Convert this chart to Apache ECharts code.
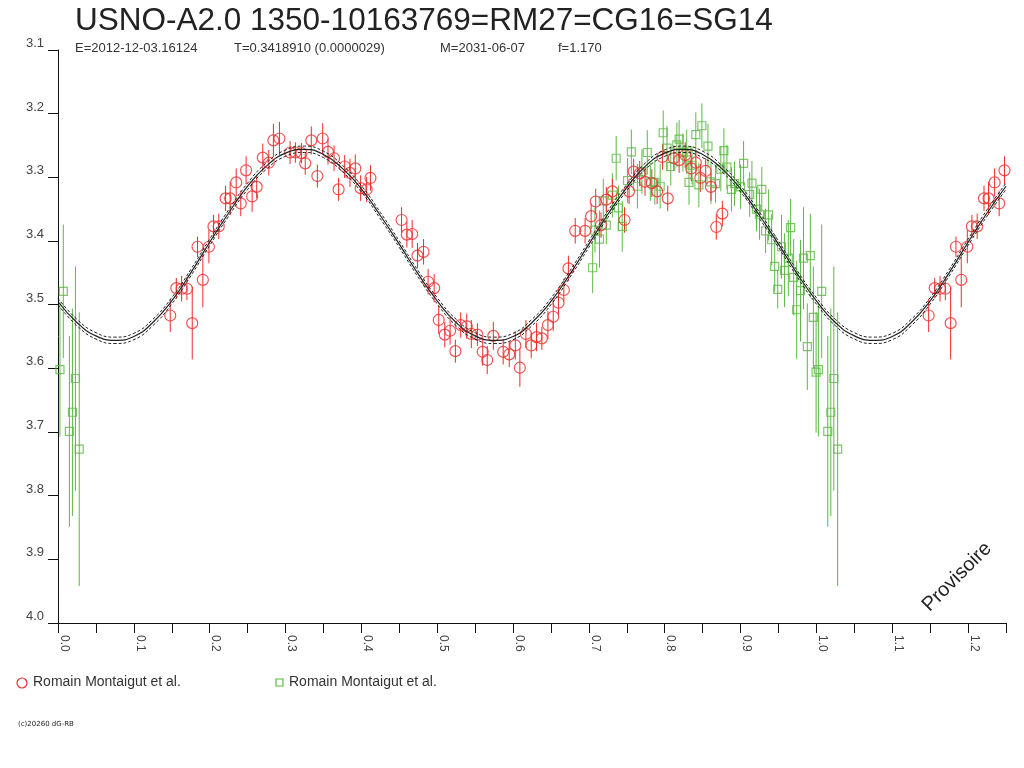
<!DOCTYPE html>
<html>
<head>
<meta charset="utf-8">
<script src="https://cdn.jsdelivr.net/npm/echarts@6/dist/echarts.min.js"></script>
<style>
html,body{margin:0;padding:0;background:#fff;}
#chart{width:1024px;height:768px;}
</style>
</head>
<body>
<div id="chart"></div>
<script>
// ---- data ----
const titleText = 'USNO-A2.0 1350-10163769=RM27=CG16=SG14';
const subTexts = ['E=2012-12-03.16124', 'T=0.3418910 (0.0000029)', 'M=2031-06-07', 'f=1.170'];
const seriesNames = ['Romain Montaigut et al.', 'Romain Montaigut et al.'];
const yTicks = [3.1, 3.2, 3.3, 3.4, 3.5, 3.6, 3.7, 3.8, 3.9, 4.0];

const redPhase = [0.148,0.156,0.163,0.170,0.177,0.184,0.191,0.199,0.205,0.212,0.221,0.227,0.235,0.241,0.248,
  0.256,0.262,0.270,0.278,0.284,0.292,0.306,0.313,0.321,0.326,0.334,0.342,0.349,0.356,0.364,0.370,0.378,0.385,
  0.392,0.399,0.407,0.412,0.453,0.460,0.467,0.474,0.482,0.488,0.496,0.502,0.510,0.517,0.524,0.531,0.539,0.545,
  0.553,0.560,0.566,0.574,0.587,0.595,0.603,0.609,0.617,0.624,0.631,0.638,0.646,0.653,0.660,0.667,0.673,0.682,
  0.695,0.703,0.709,0.716,0.723,0.731,0.747,0.753,0.759,0.767,0.774,0.783,0.790,0.797,0.804,0.812,0.819,0.827,
  0.835,0.841,0.847,0.854,0.861,0.868,0.876];
const redMag = [3.517,3.474,3.475,3.475,3.529,3.409,3.461,3.409,3.377,3.377,3.333,3.333,3.308,3.341,3.289,
  3.330,3.315,3.269,3.277,3.242,3.239,3.261,3.261,3.262,3.278,3.242,3.298,3.239,3.260,3.270,3.319,3.283,3.293,
  3.286,3.317,3.319,3.301,3.367,3.390,3.389,3.423,3.417,3.464,3.474,3.524,3.547,3.541,3.573,3.532,3.534,3.546,
  3.547,3.574,3.587,3.549,3.574,3.578,3.564,3.599,3.546,3.564,3.551,3.553,3.532,3.519,3.497,3.477,3.443,3.384,
  3.384,3.361,3.338,3.375,3.335,3.322,3.367,3.322,3.291,3.294,3.307,3.309,3.322,3.268,3.333,3.270,3.273,3.265,
  3.286,3.277,3.301,3.290,3.315,3.378,3.357];
const redErr = [0.026,0.016,0.020,0.018,0.057,0.016,0.043,0.026,0.018,0.020,0.020,0.026,0.022,0.020,0.022,
  0.024,0.018,0.022,0.020,0.026,0.026,0.018,0.016,0.016,0.018,0.022,0.018,0.024,0.020,0.020,0.018,0.018,0.022,
  0.022,0.020,0.020,0.020,0.020,0.020,0.022,0.020,0.020,0.020,0.022,0.022,0.020,0.022,0.018,0.020,0.020,0.022,
  0.018,0.022,0.022,0.022,0.020,0.020,0.022,0.030,0.022,0.020,0.022,0.018,0.022,0.022,0.020,0.018,0.020,0.020,
  0.020,0.020,0.020,0.020,0.020,0.020,0.020,0.020,0.020,0.020,0.022,0.022,0.020,0.020,0.020,0.020,0.020,0.020,
  0.020,0.020,0.022,0.020,0.022,0.020,0.020];

const greenPhase = [0.0026,0.007,0.015,0.019,0.023,0.028,
  0.705,0.708,0.714,0.719,0.723,0.731,0.736,0.739,0.744,0.751,0.756,0.764,0.770,0.777,0.781,0.787,0.794,0.798,
  0.803,0.808,0.816,0.819,0.824,0.829,0.832,0.836,0.841,0.845,0.849,0.857,0.861,0.867,0.874,0.878,0.882,0.888,
  0.892,0.900,0.904,0.912,0.915,0.921,0.925,0.928,0.933,0.937,0.941,0.945,0.949,0.954,0.958,0.963,0.966,0.970,
  0.974,0.979,0.983,0.988,0.992,0.996,0.9996];
const greenMag = [3.602,3.479,3.699,3.669,3.616,3.727,
  3.442,3.383,3.397,3.337,3.375,3.328,3.270,3.348,3.377,3.305,3.260,3.314,3.291,3.261,3.307,3.308,3.314,3.230,
  3.254,3.283,3.249,3.240,3.261,3.260,3.308,3.281,3.233,3.312,3.219,3.251,3.307,3.310,3.287,3.258,3.284,3.319,
  3.310,3.315,3.278,3.327,3.309,3.350,3.358,3.319,3.384,3.359,3.398,3.440,3.476,3.409,3.446,3.427,3.379,3.457,
  3.508,3.478,3.427,3.566,3.423,3.520,3.606];
const greenErr = [0.105,0.105,0.150,0.163,0.176,0.215,
  0.040,0.035,0.045,0.035,0.030,0.035,0.035,0.035,0.040,0.035,0.035,0.035,0.035,0.035,0.030,0.035,0.035,0.035,
  0.035,0.030,0.035,0.030,0.030,0.035,0.035,0.030,0.035,0.035,0.035,0.035,0.035,0.030,0.035,0.035,0.035,0.035,
  0.035,0.035,0.035,0.035,0.035,0.035,0.040,0.035,0.035,0.040,0.040,0.040,0.030,0.050,0.058,0.060,0.045,0.060,
  0.077,0.080,0.080,0.068,0.066,0.080,0.095];

const curvePhase = [0.000,0.025,0.050,0.075,0.100,0.125,0.150,0.175,0.200,0.225,0.250,0.275,0.300,0.325,0.350,
  0.375,0.400,0.425,0.450,0.475,0.500,0.525,0.550,0.575,0.600,0.625,0.650,0.675,0.700,0.725,0.750,0.775,0.800,
  0.825,0.850,0.875,0.900,0.925,0.950,0.975,1.000,1.025,1.050,1.075,1.100,1.125,1.150,1.175,1.200,1.225,1.250];
const curveMag = [3.495,3.528,3.549,3.556,3.550,3.528,3.494,3.450,3.402,3.356,3.314,3.282,3.262,3.256,3.264,
  3.286,3.318,3.360,3.405,3.452,3.494,3.528,3.549,3.556,3.550,3.528,3.495,3.452,3.405,3.358,3.316,3.282,3.262,
  3.256,3.264,3.286,3.318,3.360,3.405,3.452,3.494,3.528,3.549,3.556,3.550,3.528,3.494,3.450,3.402,3.356,3.314];
const bandHalf = 0.005;

const redColor = '#ee2c2c';
const greenColor = '#5cb944';
const curveColor = '#222';

// ---- build data (points repeat one cycle later up to phase 1.25) ----
const xMax = 1.25;
function expand(ph, mag, err) {
  const out = [];
  for (let i = 0; i < ph.length; i++) {
    out.push([ph[i], mag[i], err[i]]);
    if (ph[i] + 1 <= xMax) out.push([ph[i] + 1, mag[i], err[i]]);
  }
  return out;
}
const redPts = expand(redPhase, redMag, redErr);
const greenPts = expand(greenPhase, greenMag, greenErr);

function errSeries(pts, color) {
  return {
    type: 'custom',
    data: pts.map(p => [p[0], p[1] - p[2], p[1] + p[2]]),
    encode: { x: 0, y: [1, 2] },
    silent: true,
    z: 2,
    renderItem: function (params, api) {
      const a = api.coord([api.value(0), api.value(1)]);
      const b = api.coord([api.value(0), api.value(2)]);
      return { type: 'line', shape: { x1: a[0], y1: a[1], x2: b[0], y2: b[1] },
        style: { stroke: color, lineWidth: 1 } };
    }
  };
}

const chart = echarts.init(document.getElementById('chart'), null, { renderer: 'canvas' });
const FF = 'Liberation Sans, Arial, sans-serif';

const option = {
  animation: false,
  backgroundColor: '#fff',
  textStyle: { fontFamily: FF },
  grid: { left: 58, right: 18, top: 50, bottom: 145, containLabel: false },
  xAxis: {
    type: 'value', min: 0, max: xMax, interval: 0.05,
    axisLine: { show: true, onZero: false, lineStyle: { color: '#111', width: 1 } },
    axisTick: { show: true, inside: false, length: 10, lineStyle: { color: '#111' } },
    splitLine: { show: false },
    axisLabel: {
      rotate: -90, margin: 12, color: '#444', fontSize: 12, verticalAlign: 'bottom',
      fontFamily: FF,
      formatter: function (v) {
        const k = Math.round(v * 100);
        return (k % 10 === 0) ? (k / 100).toFixed(1) : '';
      }
    }
  },
  yAxis: {
    type: 'value', inverse: true, min: yTicks[0], max: yTicks[yTicks.length - 1], interval: 0.1,
    axisLine: { show: true, onZero: false, lineStyle: { color: '#111', width: 1 } },
    axisTick: { show: true, inside: false, length: 10, lineStyle: { color: '#111' } },
    splitLine: { show: false },
    axisLabel: {
      margin: 14, color: '#444', fontSize: 13, verticalAlign: 'bottom',
      fontFamily: FF,
      formatter: v => v.toFixed(1)
    }
  },
  series: [
    errSeries(greenPts, greenColor),
    errSeries(redPts, redColor),
    {
      name: seriesNames[1], type: 'scatter', symbol: 'rect', symbolSize: 8, z: 3,
      data: greenPts.map(p => [p[0], p[1]]),
      itemStyle: { color: 'rgba(0,0,0,0)', borderColor: greenColor, borderWidth: 1.2 }
    },
    {
      name: seriesNames[0], type: 'scatter', symbol: 'circle', symbolSize: 11, z: 4,
      data: redPts.map(p => [p[0], p[1]]),
      itemStyle: { color: 'rgba(0,0,0,0)', borderColor: redColor, borderWidth: 1.2 }
    },
    {
      type: 'line', smooth: true, showSymbol: false, z: 5, silent: true,
      data: curvePhase.map((x, i) => [x, curveMag[i]]),
      lineStyle: { color: curveColor, width: 1.2 }
    },
    {
      type: 'line', smooth: true, showSymbol: false, z: 5, silent: true,
      data: curvePhase.map((x, i) => [x, curveMag[i] - bandHalf]),
      lineStyle: { color: curveColor, width: 1, type: [3, 2] }
    },
    {
      type: 'line', smooth: true, showSymbol: false, z: 5, silent: true,
      data: curvePhase.map((x, i) => [x, curveMag[i] + bandHalf]),
      lineStyle: { color: curveColor, width: 1, type: [3, 2] }
    }
  ],
  graphic: [
    { type: 'text', left: 75, top: 5, style: { text: titleText, fontSize: 31.5, fill: '#222', fontFamily: FF } },
    { type: 'text', left: 75, top: 42, style: { text: subTexts[0], fontSize: 13, fill: '#333', fontFamily: FF } },
    { type: 'text', left: 234, top: 42, style: { text: subTexts[1], fontSize: 13, fill: '#333', fontFamily: FF } },
    { type: 'text', left: 440, top: 42, style: { text: subTexts[2], fontSize: 13, fill: '#333', fontFamily: FF } },
    { type: 'text', left: 558, top: 42, style: { text: subTexts[3], fontSize: 13, fill: '#333', fontFamily: FF } },
    { type: 'circle', shape: { cx: 22, cy: 683, r: 5 }, style: { fill: 'none', stroke: redColor, lineWidth: 1.2 } },
    { type: 'text', left: 33, top: 675, style: { text: seriesNames[0], fontSize: 14, fill: '#333', fontFamily: FF } },
    { type: 'rect', shape: { x: 276, y: 679, width: 7, height: 7 }, style: { fill: 'none', stroke: greenColor, lineWidth: 1.2 } },
    { type: 'text', left: 289, top: 675, style: { text: seriesNames[1], fontSize: 14, fill: '#333', fontFamily: FF } },
    { type: 'text', left: 18, top: 721, style: { text: '(c)20260 dG-RB', fontSize: 7, fill: '#222',
        fontFamily: 'DejaVu Sans, sans-serif' } },
    { type: 'text', x: 957, y: 577, rotation: Math.PI / 4,
      style: { text: 'Provisoire', fontSize: 20, fill: '#222', align: 'center', verticalAlign: 'middle', fontFamily: FF } }
  ]
};
chart.setOption(option);
</script>
</body>
</html>
